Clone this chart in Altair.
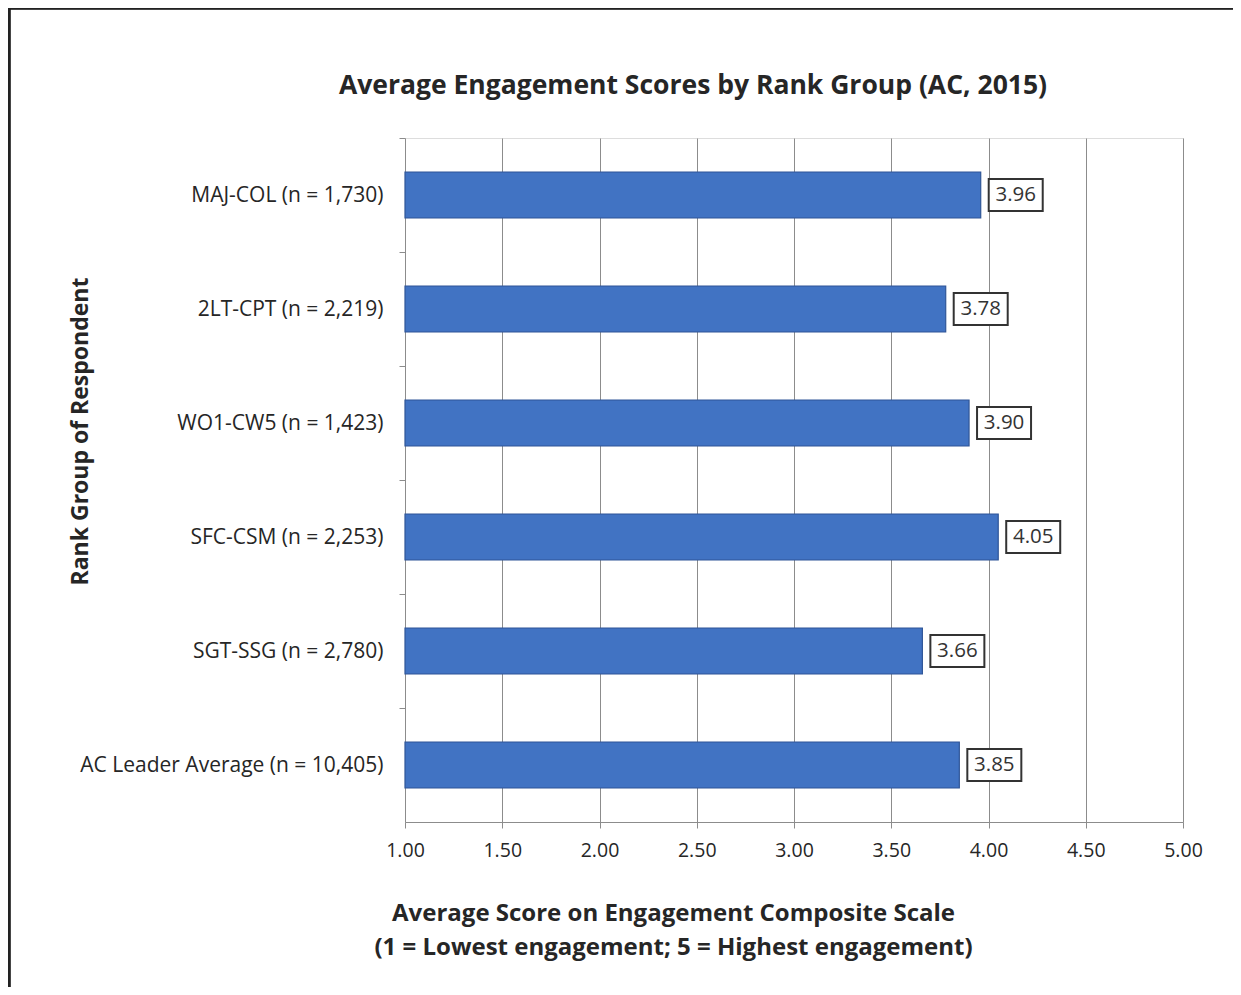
import altair as alt
import pandas as pd

categories = [
    "MAJ-COL (n = 1,730)",
    "2LT-CPT (n = 2,219)",
    "WO1-CW5 (n = 1,423)",
    "SFC-CSM (n = 2,253)",
    "SGT-SSG (n = 2,780)",
    "AC Leader Average (n = 10,405)",
]
scores = [3.96, 3.78, 3.90, 4.05, 3.66, 3.85]
x_ticks = [1.0, 1.5, 2.0, 2.5, 3.0, 3.5, 4.0, 4.5, 5.0]
chart_title = "Average Engagement Scores by Rank Group (AC, 2015)"

df = pd.DataFrame({"group": categories, "score": scores})

FONT = "Open Sans"
TEXT = "#262626"
GRID = "#8c8c8c"

x_scale = alt.Scale(domain=[1, 5], nice=False, zero=False)
y_scale = alt.Scale(domain=categories, paddingInner=0, paddingOuter=0)

x_enc = alt.X(
    "score:Q",
    scale=x_scale,
    axis=alt.Axis(
        values=x_ticks,
        format=".2f",
        grid=True,
        gridColor=GRID,
        gridWidth=1,
        domainColor=GRID,
        tickColor=GRID,
        tickSize=6,
        labelFont=FONT,
        labelFontSize=19.5,
        labelColor=TEXT,
        labelPadding=13,
        labelFlush=False,
        title=["Average Score on Engagement Composite Scale",
               "(1 = Lowest engagement; 5 = Highest engagement)"],
        titleFont=FONT,
        titleFontSize=24,
        titleFontWeight="bold",
        titleColor=TEXT,
        titleX=268,
        titleY=79,
        titleAlign="center",
        titleBaseline="top",
        titleLineHeight=34,
    ),
)

y_enc = alt.Y(
    "group:N",
    scale=y_scale,
    sort=categories,
    axis=alt.Axis(
        domain=False,
        ticks=True,
        tickColor=GRID,
        tickSize=6,
        tickOffset=-57,
        labelOffset=57,
        labelFont=FONT,
        labelFontSize=21,
        labelColor=TEXT,
        labelPadding=16,
        labelLimit=400,
        title="Rank Group of Respondent",
        titleFont=FONT,
        titleFontSize=23,
        titleFontWeight="bold",
        titleColor=TEXT,
        titleX=-325,
        titleY=293,
        titleAngle=270,
        titleAlign="center",
        titleBaseline="middle",
    ),
)

base = alt.Chart(df)

bars = base.mark_bar(
    height=46, color="#4173C3", stroke="#2F5597", strokeWidth=1.2
).encode(x=x_enc, x2=alt.datum(1), y=y_enc)

boxes = base.mark_rect(
    height=32, fill="white", stroke="#333333", strokeWidth=2,
    xOffset=8, x2Offset=62
).encode(x=alt.X("score:Q", scale=x_scale), x2="score:Q",
         y=alt.Y("group:N", scale=y_scale, sort=categories))

labels = base.mark_text(
    font=FONT, fontSize=20.5, color="#333333", align="center",
    baseline="middle", dx=35
).encode(
    x=alt.X("score:Q", scale=x_scale),
    y=alt.Y("group:N", scale=y_scale, sort=categories),
    text=alt.Text("score:Q", format=".2f"),
)

title_mark = alt.Chart(pd.DataFrame({"t": [chart_title]})).mark_text(
    font=FONT, fontSize=26.5, fontWeight="bold", color=TEXT,
    align="center", baseline="middle"
).encode(x=alt.value(288), y=alt.value(-52), text="t:N")

frame_left = alt.Chart(df).mark_rule(color="#222222", strokeWidth=2.5).encode(
    x=alt.value(-396), y=alt.value(-130), y2=alt.value(860)
)
frame_top = alt.Chart(df).mark_rule(color="#222222", strokeWidth=2.5).encode(
    x=alt.value(-396), x2=alt.value(830), y=alt.value(-130)
)

chart = alt.layer(frame_left, frame_top, bars, boxes, labels, title_mark).properties(
    width=778,
    height=684,
    autosize=alt.AutoSizeParams(type="none"),
    padding={"left": 397, "top": 130, "right": 50, "bottom": 165},
).configure_view(
    stroke=GRID, strokeWidth=1
).configure(background="white")

chart.save("out.html", embed_options={"renderer": "svg", "actions": False})
